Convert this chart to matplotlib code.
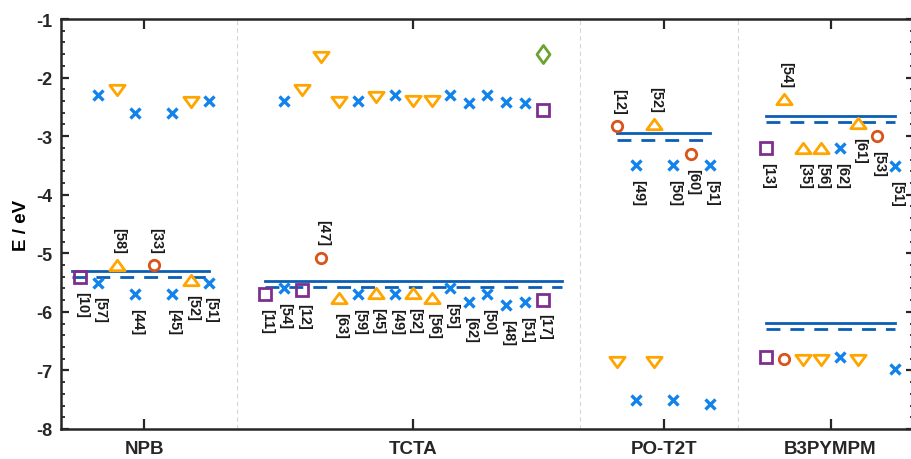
import matplotlib
matplotlib.use("Agg")
from matplotlib import pyplot as plt
from matplotlib.path import Path
from matplotlib.ticker import MultipleLocator

plt.rcParams['font.family'] = ['Liberation Sans', 'DejaVu Sans']

# categories on the x axis
categories = ['NPB', 'TCTA', 'PO-T2T', 'B3PYMPM']
category_pos = [4.5, 19, 32.5, 41.5]
group_edges = [9.5, 28, 36.5]
energy_ticks = [-8, -7, -6, -5, -4, -3, -2, -1]

# transport levels: solid and dashed line per group
level_start = [0.6, 11, 30, 38, 38]
level_end = [8, 27, 35, 45, 45]
level_solid = [-5.30, -5.47, -2.95, -2.66, -6.19]
level_dashed = [-5.41, -5.57, -3.06, -2.76, -6.30]

# literature values, one list per marker type
cross_pos = [2, 4, 6, 8, 2, 4, 6, 8,
             12, 16, 18, 21, 22, 23, 24, 25,
             12, 16, 18, 21, 22, 23, 24, 25,
             31, 33, 35, 31, 33, 35,
             42, 45, 42, 45]
cross_E = [-5.5, -5.7, -5.7, -5.5, -2.3, -2.6, -2.6, -2.4,
           -5.6, -5.7, -5.7, -5.6, -5.83, -5.7, -5.89, -5.83,
           -2.4, -2.4, -2.3, -2.3, -2.43, -2.3, -2.41, -2.43,
           -3.5, -3.5, -3.5, -7.5, -7.5, -7.57,
           -3.2, -3.51, -6.77, -6.97]

tri_up_pos = [3, 7, 15, 17, 19, 20, 32, 39, 40, 41, 43]
tri_up_E = [-5.2, -5.45, -5.77, -5.68, -5.68, -5.77, -2.8, -2.37, -3.2, -3.2, -2.78]

tri_down_pos = [3, 7, 13, 14, 15, 17, 19, 20, 30, 32, 40, 41, 43]
tri_down_E = [-2.22, -2.42, -2.22, -1.65, -2.42, -2.33, -2.4, -2.4,
              -6.85, -6.85, -6.83, -6.83, -6.83]

circle_pos = [5, 14, 30, 34, 39, 44]
circle_E = [-5.2, -5.08, -2.83, -3.3, -6.8, -3.0]

square_pos = [1, 11, 13, 26, 26, 38, 38]
square_E = [-5.4, -5.7, -5.62, -5.79, -2.55, -3.2, -6.77]

diamond_pos = [26]
diamond_E = [-1.6]

# reference labels
label_pos = [1, 2, 3, 4, 5, 6, 7, 8,
             11, 12, 13, 14, 15, 16, 17, 18, 19, 20, 21, 22, 23, 24, 25, 26,
             30, 31, 32, 33, 34, 35,
             38, 39, 40, 41, 42, 43, 44, 45]
label_E = [-5.4, -5.5, -5.2, -5.7, -5.2, -5.7, -5.45, -5.5,
           -5.7, -5.6, -5.62, -5.08, -5.77, -5.7, -5.68, -5.7, -5.68, -5.77,
           -5.6, -5.83, -5.7, -5.89, -5.83, -5.79,
           -2.83, -3.5, -2.8, -3.5, -3.3, -3.5,
           -3.2, -2.37, -3.2, -3.2, -3.2, -2.78, -3.0, -3.51]
label_text = ['[10]', '[57]', '[58]', '[44]', '[33]', '[45]', '[52]', '[51]',
              '[11]', '[54]', '[12]', '[47]', '[63]', '[59]', '[45]', '[49]', '[52]', '[56]',
              '[55]', '[62]', '[50]', '[48]', '[51]', '[17]',
              '[12]', '[49]', '[52]', '[50]', '[60]', '[51]',
              '[13]', '[54]', '[35]', '[56]', '[62]', '[61]', '[53]', '[51]']
label_above = ['[58]', '[33]', '[47]', '[12]@30', '[52]@32', '[54]@39']

# wide flat triangles like the original markers
tri_up = Path([(0, 0.68), (-1, -0.68), (1, -0.68), (0, 0.68)],
              [Path.MOVETO, Path.LINETO, Path.LINETO, Path.CLOSEPOLY])
tri_down = Path([(0, -0.68), (-1, 0.68), (1, 0.68), (0, -0.68)],
                [Path.MOVETO, Path.LINETO, Path.LINETO, Path.CLOSEPOLY])
diamond = Path([(0, 1), (0.72, 0), (0, -1), (-0.72, 0), (0, 1)],
               [Path.MOVETO, Path.LINETO, Path.LINETO, Path.LINETO, Path.CLOSEPOLY])

fig = plt.figure(figsize=(9.12, 4.6), dpi=100)
ax = fig.add_axes([61 / 912, 30 / 460, 853 / 912, 410 / 460])

for x in group_edges:
    ax.axvline(x, color='#d6d6d6', ls=(0, (4, 3)), lw=0.8, zorder=0)

line_col = '#0a5fb4'
for x0, x1, ys, yd in zip(level_start, level_end, level_solid, level_dashed):
    ax.plot([x0, x1], [ys, ys], color=line_col, lw=2.0, zorder=2)
    ax.plot([x0, x1], [yd, yd], color=line_col, lw=2.0, dashes=(5, 3.6), zorder=2)

ax.plot(cross_pos, cross_E, ls='none', marker='x', ms=7.5, mew=2.4, color='#1282ec', zorder=3)
ax.plot(tri_up_pos, tri_up_E, ls='none', marker=tri_up, ms=11, mew=2.0,
        mfc='none', mec='#ffa500', zorder=3)
ax.plot(tri_down_pos, tri_down_E, ls='none', marker=tri_down, ms=11, mew=2.0,
        mfc='none', mec='#ffa500', zorder=3)
ax.plot(circle_pos, circle_E, ls='none', marker='o', ms=7.5, mew=2.0,
        mfc='none', mec='#d9541a', zorder=3)
ax.plot(square_pos, square_E, ls='none', marker='s', ms=8, mew=2.0,
        mfc='none', mec='#7e2f8e', zorder=3)
ax.plot(diamond_pos, diamond_E, ls='none', marker=diamond, ms=13, mew=2.0,
        mfc='none', mec='#6aa32d', zorder=3)

for x, e, t in zip(label_pos, label_E, label_text):
    up = t in label_above or '%s@%d' % (t, x) in label_above
    if up:
        ax.annotate(t, (x, e), xytext=(1.5, 9.0), textcoords='offset points',
                    rotation=-90, ha='center', va='bottom', fontsize=10.5,
                    fontweight='bold', color='#1a1a1a')
    else:
        ax.annotate(t, (x, e), xytext=(1.5, -10.0), textcoords='offset points',
                    rotation=-90, ha='center', va='top', fontsize=10.5,
                    fontweight='bold', color='#1a1a1a')

ax.set_xlim(0, 46)
ax.set_ylim(-8, -1)
ax.set_xticks(category_pos)
ax.set_xticklabels(categories, fontsize=13.5, fontweight='bold')
ax.set_yticks(energy_ticks)
ax.set_yticklabels(['%d' % v for v in energy_ticks], fontsize=13, fontweight='bold')
ax.yaxis.set_minor_locator(MultipleLocator(0.2))
ax.tick_params(axis='x', direction='in', top=True, bottom=True, length=7, width=1.6,
               pad=8, colors='#262626')
ax.tick_params(axis='y', which='major', direction='in', left=True, right=True,
               length=6, width=1.6, pad=6, colors='#262626')
ax.tick_params(axis='y', which='minor', direction='in', left=True, right=True,
               length=3, width=1.3, colors='#262626')
for s in ax.spines.values():
    s.set_linewidth(1.8)
    s.set_color('#262626')

ax.set_ylabel('E / eV', fontsize=13.5, fontweight='bold', labelpad=5)

fig.savefig('out.png', dpi=100)
